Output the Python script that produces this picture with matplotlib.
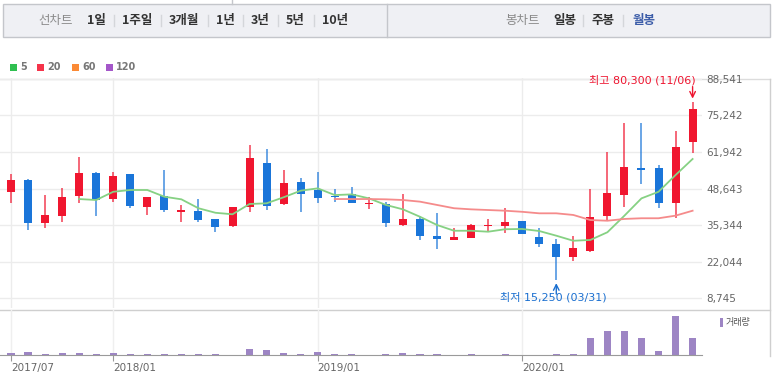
import numpy as np
import pandas as pd
import matplotlib.pyplot as plt
from matplotlib.patches import Rectangle

plt.rcParams['font.family'] = ['DejaVu Sans', 'Noto Sans CJK KR']

# monthly candles 2017/07 ~ 2020/11
months = pd.period_range('2017-07', '2020-11', freq='M').strftime('%Y/%m').tolist()

opens = [47450, 51750, 35950, 38600, 45900, 54400, 44700, 53800, 41900, 46000,
         39950, 40550, 37650, 35000, 42000, 57800, 43000, 50900, 48100, 45900,
         46500, 42900, 43000, 35350, 37650, 31200, 29900, 30700, 35000, 35100,
         36900, 30850, 28550, 23550, 26000, 38750, 46250, 56000, 56100, 43450, 65700]
highs = [53800, 52100, 46250, 48950, 60250, 54550, 54550, 53800, 45700, 55400,
         42500, 44900, 37700, 42050, 64600, 63050, 55400, 52600, 54550, 48450,
         49300, 45650, 43850, 46500, 38600, 39600, 34150, 35600, 37400, 41450,
         36950, 34150, 30150, 31450, 48350, 61850, 72400, 72400, 57300, 69500, 80300]
lows = [43250, 33500, 34150, 36550, 43450, 38600, 43700, 41450, 39000, 40200,
        36300, 36300, 32700, 34500, 40200, 40800, 42650, 40200, 43250, 43850,
        43250, 41050, 34700, 35100, 29900, 26600, 29850, 30650, 32900, 32300,
        31900, 27450, 15250, 22250, 25400, 37150, 42000, 50300, 41450, 37800, 61700]
closes = [51750, 35950, 38900, 45650, 54200, 44450, 53300, 42250, 45650, 40700,
          40900, 37050, 34700, 42000, 59650, 42250, 50550, 46650, 45050, 45450,
          43450, 43250, 35950, 37650, 31450, 30250, 30850, 35250, 35350, 36550,
          31950, 28300, 23550, 26850, 38350, 46900, 56350, 55500, 43450, 63750, 77500]

# moving averages (5 starts at 5th month, 20 at 20th)
ma5 = [44800, 44450, 47450, 48100, 48100, 45650, 44700, 41450, 39800, 39250,
       43000, 43250, 45450, 47850, 48700, 46250, 46500, 45050, 42650, 41050,
       38350, 35350, 33250, 33250, 32900, 33800, 33900, 33150, 31450, 29600,
       29900, 32700, 38750, 45050, 47450, 53550, 59400]
ma20 = [44800, 44800, 44800, 44700, 44450, 43850, 42650, 41450, 41050, 40800,
        40550, 40150, 39600, 39600, 39000, 37150, 36900, 37550, 37800, 37800,
        38750, 40550]

# volume (thousand shares)
volume = [100, 165, 50, 100, 100, 50, 100, 50, 50, 50,
          50, 50, 50, 10, 315, 265, 100, 50, 150, 50,
          50, 10, 50, 100, 50, 50, 10, 50, 10, 50,
          10, 10, 50, 50, 865, 1200, 1200, 865, 215, 1965, 865]

y_ticks = [88541, 75242, 61942, 48643, 35344, 22044, 8745]
date_ticks = ['2017/07', '2018/01', '2019/01', '2020/01']

W, H = 772, 383
up_col = '#f0162f'
down_col = '#1a75d9'

fig = plt.figure(figsize=(W / 100, H / 100), dpi=100)

# ---- page chrome drawn in pixel coordinates
bg = fig.add_axes([0, 0, 1, 1], zorder=-1)
bg.set_xlim(0, W)
bg.set_ylim(H, 0)
bg.axis('off')
bg.add_patch(Rectangle((2.5, 3.5), 767.5, 33.5, fc='#eff0f4', ec='#c4c6cb', lw=1))
bg.plot([387, 387], [3.5, 37], color='#c4c6cb', lw=1)
bg.plot([232, 232], [0, 3.5], color='#c4c6cb', lw=1)

hk = ['Noto Sans CJK KR', 'DejaVu Sans']
bg.text(38, 20.5, '선차트', family=hk, fontsize=9, color='#8a8a8a', va='center')
left_items = [('1일', 87), ('1주일', 122), ('3개월', 169), ('1년', 216), ('3년', 251), ('5년', 286), ('10년', 322)]
for lab, x in left_items:
    bg.text(x, 20.5, lab, family=hk, fontsize=9, fontweight='bold', color='#333333', va='center')
for x in [114, 161, 208, 243, 278, 314, 583, 623]:
    bg.plot([x, x], [15, 26], color='#d4d6da', lw=1)
bg.text(505, 20.5, '봉차트', family=hk, fontsize=9, color='#8a8a8a', va='center')
bg.text(553, 20.5, '일봉', family=hk, fontsize=9, fontweight='bold', color='#333333', va='center')
bg.text(591, 20.5, '주봉', family=hk, fontsize=9, fontweight='bold', color='#333333', va='center')
bg.text(633, 20.5, '월봉', family=hk, fontsize=9, fontweight='bold', color='#3b5ca8', va='center')

# MA legend
for (lab, x, c) in [('5', 10, '#2fbf50'), ('20', 37, '#f5334a'), ('60', 72, '#fb8a35'), ('120', 106, '#a457c9')]:
    bg.add_patch(Rectangle((x, 64), 6.5, 6.5, fc=c, ec='none'))
    bg.text(x + 10, 67.5, lab, fontsize=7, fontweight='bold', color='#777777', va='center')

# panel frames
bg.plot([0, 770], [78.5, 78.5], color='#dcdcdc', lw=1)
bg.plot([0, 770], [309.5, 309.5], color='#cfcfcf', lw=1)
bg.plot([769.5, 769.5], [78.5, 356], color='#cfcfcf', lw=1)
bg.add_patch(Rectangle((720, 318), 3, 9, fc='#9d85c4', ec='none'))
bg.text(726, 322.5, '거래량', family=hk, fontsize=6.5, color='#555555', va='center')

# ---- price panel
px_per_val = 219 / (88541 - 8745)
ytop = 88541 + 1 / px_per_val
ybot = 8745 - 10 / px_per_val
step = 17.04
xl = (-11 / step, (702 - 11) / step)

ax = fig.add_axes([0, 1 - 308 / H, 702 / W, 230 / H])
ax.patch.set_alpha(0)
ax.set_xlim(*xl)
ax.set_ylim(ybot, ytop)
for s in ax.spines.values():
    s.set_visible(False)

idx = np.arange(len(months))
tick_idx = [months.index(d) for d in date_ticks]
ax.set_xticks(tick_idx)
ax.set_xticklabels([])
ax.tick_params(axis='x', length=0)
ax.yaxis.tick_right()
ax.set_yticks(y_ticks)
ax.set_yticklabels(['{:,}'.format(v) for v in y_ticks])
ax.tick_params(axis='y', length=0, pad=3, labelsize=7.5, labelcolor='#666666')
ax.grid(True, color='#ececec', lw=1)
ax.set_axisbelow(True)

o = np.array(opens)
c = np.array(closes)
cols = np.where(c >= o, up_col, down_col)
ax.vlines(idx, lows, highs, colors=cols, lw=1.3, alpha=0.7, zorder=2)
body = np.maximum(np.abs(c - o), 380)
ax.bar(idx, body, bottom=np.minimum(o, c), width=0.47, color=cols, lw=0, zorder=3)

ax.plot(idx[4:], ma5, color='#86d183', lw=1.3, zorder=4)
ax.plot(idx[19:], ma20, color='#f58b8b', lw=1.3, zorder=4)

# high / low markers
hi = int(np.argmax(highs))
lo = int(np.argmin(lows))
ax.text(hi + 0.15, ytop - 2.2 / px_per_val, '최고 {:,} (11/06)'.format(max(highs)),
        ha='right', va='center', fontsize=8, color='#ee1530')
ax.annotate('', xy=(hi, max(highs) + 3 / px_per_val), xytext=(hi, max(highs) + 15 / px_per_val),
            arrowprops=dict(arrowstyle='->', color='#ee1530', lw=1, shrinkA=0, shrinkB=0))
ax.text(lo - 3.3, 8745 + 1 / px_per_val, '최저 {:,} (03/31)'.format(min(lows)),
        ha='left', va='center', fontsize=8, color='#1a6fd0')
ax.annotate('', xy=(lo, min(lows) - 3 / px_per_val), xytext=(lo, min(lows) - 14 / px_per_val),
            arrowprops=dict(arrowstyle='->', color='#1a6fd0', lw=1, shrinkA=0, shrinkB=0))

# ---- volume panel
vx = fig.add_axes([0, 1 - 355 / H, 702 / W, 45.5 / H])
vx.patch.set_alpha(0)
vx.set_xlim(*xl)
vx.set_ylim(0, 2300)
vx.bar(idx, volume, width=0.42, color='#9d85c4', lw=0)
for k in ['top', 'left', 'right']:
    vx.spines[k].set_visible(False)
vx.spines['bottom'].set_color('#9a9a9a')
vx.set_yticks([])
vx.set_xticks(tick_idx)
vx.set_xticklabels(date_ticks, ha='left')
vx.tick_params(axis='x', length=4, color='#9a9a9a', labelsize=7.5, labelcolor='#666666', pad=2)
vx.grid(axis='x', color='#efefef', lw=1)
vx.set_axisbelow(True)

fig.savefig('out.png', dpi=100)
